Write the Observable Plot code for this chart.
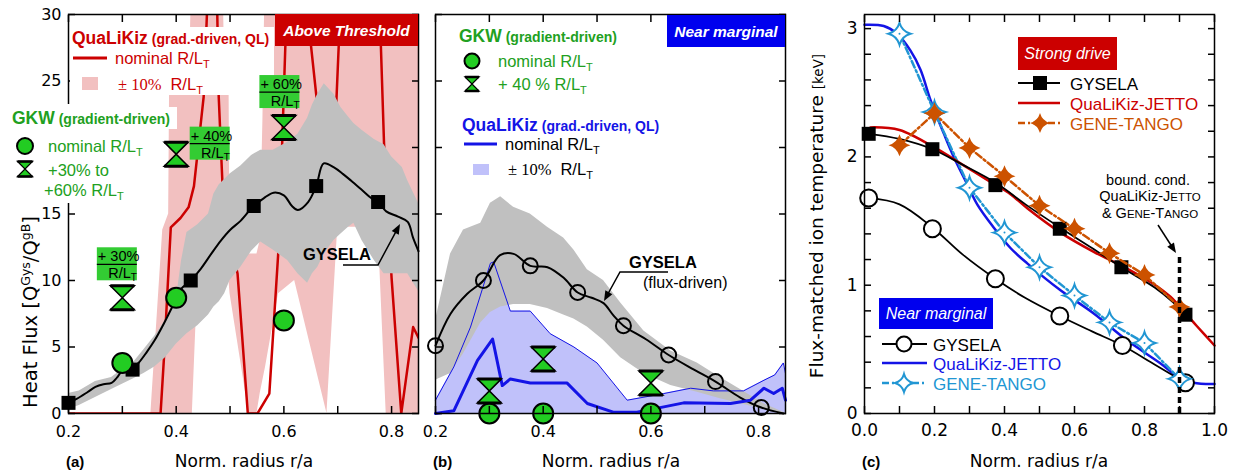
<!DOCTYPE html>
<html><head><meta charset="utf-8">
<script src="https://cdn.jsdelivr.net/npm/d3@7"></script>
<script src="https://cdn.jsdelivr.net/npm/@observablehq/plot@0.6"></script>
<style>
html,body{margin:0;padding:0;background:#fff;}
#fig{position:relative;width:1233px;height:472px;overflow:hidden;background:#fff;}
#fig svg{position:absolute;top:0;max-width:none;}
</style></head>
<body><div id="fig"></div>
<script>
// ================= Panel (a): above threshold =================
const aGysX = [0.2,0.215,0.235,0.25,0.265,0.28,0.29,0.3,0.319,0.33,0.345,0.36,0.375,0.39,0.4,0.41,0.427,0.446,0.465,0.483,0.5,0.52,0.539,0.544,0.563,0.581,0.6,0.615,0.626,0.645,0.66,0.674,0.693,0.71,0.725,0.745,0.762,0.775,0.79,0.812,0.83,0.84,0.85];
const aGysY = [0.8,1.1,1.6,2.0,2.2,2.3,2.7,3.2,3.4,3.8,4.6,5.5,6.6,7.8,8.6,9.4,10.0,10.9,12.0,13.0,13.8,14.5,15.4,15.6,16.2,16.6,16.4,15.6,15.3,15.9,17.1,18.8,18.5,18.0,17.5,16.8,16.2,15.9,15.2,14.8,14.4,13.2,12.2];
const aGysMarkX = [0.2,0.319,0.427,0.544,0.66,0.775];
const aGysMarkY = [0.8,3.3,10.0,15.6,17.1,15.9];
const aGysBandX  = [0.2,0.22,0.25,0.28,0.3,0.32,0.34,0.36,0.38,0.4,0.41,0.42,0.44,0.46,0.47,0.48,0.49,0.5,0.52,0.54,0.557,0.58,0.607,0.626,0.644,0.653,0.663,0.675,0.693,0.706,0.72,0.73,0.745,0.768,0.786,0.8,0.82,0.83,0.85];
const aGysBandLo = [0.3,0.6,1.2,1.8,2.2,2.6,3.0,3.5,4.2,5.2,5.6,6.0,6.6,7.4,8.0,8.4,9.0,10.0,11.0,12.2,12.9,12.3,11.5,10.5,9.8,10.5,11.0,12.0,13.0,13.5,14.0,14.3,13.0,11.5,10.5,10.5,10.5,10.5,9.2];
const aGysBandHi = [1.5,1.7,2.4,2.7,3.3,3.8,4.8,5.8,7.0,8.5,11.5,13.6,14.2,15.0,16.5,17.2,17.6,18.0,18.6,19.4,19.8,19.8,20.4,21.0,22.2,23.2,24.0,24.8,24.0,23.0,22.3,21.8,21.3,20.6,20.2,19.3,18.5,17.5,15.8];
const aQlkX = [0.2,0.371,0.377,0.39,0.408,0.423,0.433,0.451,0.46,0.475,0.479,0.488,0.514,0.533,0.551,0.573,0.591,0.607,0.645,0.65,0.66,0.675,0.69,0.697,0.702,0.71,0.775,0.78,0.786,0.8,0.818,0.84,0.85];
const aQlkY = [0,0,4,14,14.7,15.5,17.1,23.8,33,33,23.8,15.3,10.5,0,0,1.5,13,33,33,27.8,24,19,19,23,27.8,33,33,27.8,20.3,10.2,0,6.5,5.7];
const aQlkBandX  = [0.2,0.353,0.375,0.386,0.388,0.425,0.43,0.437,0.47,0.486,0.49,0.498,0.5,0.535,0.55,0.556,0.561,0.566,0.59,0.62,0.68,0.7,0.775,0.79,0.85];
const aQlkBandLo = [0,0,0,0,0,0,0,7,10,10,10,10,9,0,0,1.5,2.5,3.5,9,10,0,14,14,0,0];
const aQlkBandHi = [0,0,13.8,15,26,26,35,35,35,35,26,26,12,12,12,13,22,35,35,35,35,35,35,35,35];
const aGkwX = [0.3,0.4,0.6];
const aGkwNomY = [3.8,8.7,7.0];
const aGkwUpY = [8.7,19.5,21.5];
const aGkwUpLabels = ["+ 30%","+ 40%","+ 60%"];
const aXTicks = [0.2,0.3,0.4,0.5,0.6,0.7,0.8];
const aXTickLabels = ["0.2","","0.4","","0.6","","0.8"];
const aYTicks = [0,5,10,15,20,25,30];
const aYTickLabels = ["0","5","10","15","","25","30"];

// ================= Panel (b): near marginal =================
const bGysX = [0.2,0.228,0.259,0.289,0.32,0.345,0.376,0.408,0.438,0.464,0.49,0.512,0.53,0.549,0.59,0.633,0.68,0.72,0.766,0.805,0.846];
const bGysY = [5.1,7.5,9.0,10.0,11.9,12.0,11.1,11.0,10.2,9.1,8.7,8.3,7.4,6.6,5.6,4.4,3.3,2.4,1.2,0.45,0];
const bGysMarkX = [0.2,0.289,0.376,0.464,0.549,0.633,0.72,0.805];
const bGysMarkY = [5.1,10.0,11.1,9.1,6.6,4.4,2.4,0.45];
const bGysBandX  = [0.2,0.228,0.252,0.284,0.302,0.321,0.345,0.376,0.408,0.438,0.457,0.482,0.512,0.544,0.587,0.637,0.686,0.729,0.771,0.809,0.846,0.85];
const bGysBandLo = [2.5,3.0,4.5,6.8,7.6,8.0,8.2,8.2,7.9,7.4,7.1,6.5,5.5,4.2,3.0,2.1,1.6,1.1,0.7,0.3,0,0];
const bGysBandHi = [7.0,12.0,13.8,14.3,15.8,16.3,15.5,15.0,14.0,13.2,12.3,10.8,10.0,8.3,6.2,4.7,3.8,2.7,1.7,0.75,0.1,0];
const bQlkBandX  = [0.2,0.234,0.265,0.302,0.308,0.339,0.376,0.413,0.457,0.5,0.556,0.624,0.674,0.716,0.772,0.81,0.83,0.846,0.85];
const bQlkBandHi = [1.0,3.5,6.5,11.3,11.4,7.7,7.7,6.0,5.0,3.8,1.0,1.5,1.9,1.7,1.7,2.5,2.9,3.8,3.0];
const bQlkX = [0.2,0.234,0.278,0.306,0.324,0.339,0.376,0.444,0.482,0.53,0.574,0.624,0.661,0.748,0.785,0.81,0.828,0.844,0.85];
const bQlkY = [0,0.2,4.0,5.6,2.1,2.6,2.3,2.3,0.75,0.1,0.1,0.5,0.8,0.75,1.0,1.9,1.5,1.9,1.0];
const bGkwX = [0.3,0.4,0.6];
const bGkwNomY = [0,0,0];
const bGkwUpY = [1.7,4.1,2.3];
const bXTicks = [0.2,0.3,0.4,0.5,0.6,0.7,0.8];
const bXTickLabels = ["0.2","","0.4","","0.6","","0.8"];
const bYTicks = [0,5,10,15,20,25,30];
const bYTickLabels = ["","","","","","",""];

// ================= Panel (c): flux-matched Ti =================
const cGysSX = [0.012,0.1,0.194,0.28,0.374,0.46,0.558,0.65,0.734,0.83,0.88,0.917];
const cGysSY = [2.18,2.14,2.06,1.94,1.80,1.63,1.45,1.29,1.14,0.98,0.87,0.77];
const cGysSMarkX = [0.012,0.194,0.374,0.558,0.734,0.917];
const cGysSMarkY = [2.18,2.06,1.78,1.44,1.14,0.77];
const cQlkSX = [0.017,0.1,0.208,0.274,0.369,0.417,0.465,0.56,0.655,0.75,0.826,0.874,0.911,0.95,1.0];
const cQlkSY = [2.23,2.21,2.06,1.95,1.79,1.71,1.60,1.41,1.26,1.13,1.01,0.91,0.80,0.68,0.53];
const cGeneSX = [0.1,0.2,0.3,0.4,0.5,0.6,0.7,0.8,0.9];
const cGeneSY = [2.09,2.34,2.07,1.85,1.62,1.44,1.25,1.08,0.83];
const cGysMX = [0.012,0.1,0.194,0.28,0.374,0.46,0.558,0.65,0.737,0.83,0.917];
const cGysMY = [1.68,1.63,1.45,1.24,1.05,0.9,0.76,0.64,0.53,0.38,0.24];
const cGysMMarkX = [0.012,0.194,0.374,0.558,0.737,0.917];
const cGysMMarkY = [1.68,1.44,1.05,0.76,0.53,0.24];
const cQlkMX = [0.0,0.055,0.093,0.131,0.16,0.189,0.227,0.255,0.293,0.322,0.369,0.417,0.465,0.56,0.655,0.75,0.846,0.894,0.94,1.0];
const cQlkMY = [3.03,3.02,2.96,2.83,2.68,2.44,2.18,2.0,1.79,1.63,1.45,1.29,1.17,0.96,0.78,0.57,0.39,0.29,0.24,0.23];
const cGeneMX = [0.1,0.2,0.3,0.4,0.5,0.6,0.7,0.8,0.9];
const cGeneMY = [2.96,2.35,1.76,1.41,1.14,0.92,0.71,0.55,0.27];
const cBoundX = [0.9];
const cBoundTop = [1.22];
const cXTicks = [0,0.1,0.2,0.3,0.4,0.5,0.6,0.7,0.8,0.9,1.0];
const cXTickLabels = ["0.0","","0.2","","0.4","","0.6","","0.8","","1.0"];
const cYTicks = [0,0.2,0.4,0.6,0.8,1,1.2,1.4,1.6,1.8,2,2.2,2.4,2.6,2.8,3];
const cYTickLabels = ["0","","","","","1","","","","","2","","","","","3"];

// ================= colours =================
const RED = "#cc0000", PINK = "#f2c0c0", GRAY = "#c0c0c0", GREEN = "#22cc22", GREENTXT = "#21a021",
      BOXGREEN = "#33cc33", BLUE = "#1414e6", LBLUE = "#c0c1fa", BOXBLUE = "#0000ee",
      ORANGE = "#cc5200", SKY = "#2196d3";

// ================= symbols =================
const rOf = s => Math.sqrt(s / Math.PI);
const hourglass = {draw(c, s) {const r = rOf(s); c.moveTo(-r,-r); c.lineTo(r,-r); c.lineTo(-r,r); c.lineTo(r,r); c.closePath();}};
const hourBars = {draw(c, s) {const r = rOf(s); c.moveTo(-r,-r); c.lineTo(r,-r); c.moveTo(-r,r); c.lineTo(r,r);}};
const squareSym = {draw(c, s) {const r = rOf(s); c.rect(-r,-r,2*r,2*r);}};
const star4 = {draw(c, s) {const r = rOf(s), k = 0.22*r; c.moveTo(0,-r); c.quadraticCurveTo(k,-k,r,0); c.quadraticCurveTo(k,k,0,r); c.quadraticCurveTo(-k,k,-r,0); c.quadraticCurveTo(-k,-k,0,-r); c.closePath();}};

function axesFor(xT, xL, yT, yL, fs, padX) {
  const lab = (T, L) => d => { const i = T.indexOf(d); return i < 0 ? "" : L[i]; };
  return [
    Plot.axisX(xT, {anchor: "bottom", tickSize: -7, tickPadding: padX, tickFormat: lab(xT, xL), fontSize: fs, strokeWidth: 1.5, label: null}),
    Plot.axisX(xT, {anchor: "top", tickSize: -7, tickFormat: () => "", strokeWidth: 1.5, label: null}),
    Plot.axisY(yT, {anchor: "left", tickSize: -7, tickPadding: 14, tickFormat: lab(yT, yL), fontSize: fs, strokeWidth: 1.5, label: null}),
    Plot.axisY(yT, {anchor: "right", tickSize: -7, tickFormat: () => "", strokeWidth: 1.5, label: null}),
    Plot.frame({stroke: "black", strokeWidth: 1.5})
  ];
}
const baseStyle = {fontFamily: "DejaVu Sans", fontSize: "16px", color: "black", background: "transparent", overflow: "visible"};
const fig = document.getElementById("fig");

// ---------- Plot (a) ----------
const plotA = Plot.plot({
  width: 420, height: 472, marginLeft: 68, marginRight: 2, marginTop: 14, marginBottom: 59,
  x: {domain: [0.2, 0.85]}, y: {domain: [0, 30]}, style: baseStyle,
  marks: [
    Plot.areaY(aQlkBandX, {x: aQlkBandX, y1: aQlkBandLo, y2: aQlkBandHi, fill: PINK, clip: true}),
    Plot.line(aQlkX, {x: aQlkX, y: aQlkY, stroke: RED, strokeWidth: 2.5, clip: true}),
    Plot.areaY(aGysBandX, {x: aGysBandX, y1: aGysBandLo, y2: aGysBandHi, fill: GRAY, clip: true}),
    Plot.line(aGysX, {x: aGysX, y: aGysY, stroke: "black", strokeWidth: 2, curve: "catmull-rom"}),
    Plot.dot(aGysMarkX, {x: aGysMarkX, y: aGysMarkY, symbol: squareSym, r: 7, fill: "black"}),
    Plot.dot(aGkwX, {x: aGkwX, y: aGkwNomY, r: 10, fill: GREEN, stroke: "black", strokeWidth: 2}),
    Plot.dot(aGkwX, {x: aGkwX, y: aGkwUpY, symbol: hourglass, r: 12, fill: GREEN, stroke: "black", strokeWidth: 1.5}),
    Plot.dot(aGkwX, {x: aGkwX, y: aGkwUpY, symbol: hourBars, r: 12, fill: "none", stroke: "black", strokeWidth: 3}),
    ...axesFor(aXTicks, aXTickLabels, aYTicks, aYTickLabels, 16, 19)
  ]
});
plotA.style.left = "0px"; fig.appendChild(plotA);

// ---------- Plot (b) ----------
const plotB = Plot.plot({
  width: 370, height: 472, marginLeft: 15, marginRight: 5, marginTop: 14, marginBottom: 59,
  x: {domain: [0.2, 0.85]}, y: {domain: [0, 30]}, style: baseStyle,
  marks: [
    Plot.areaY(bQlkBandX, {x: bQlkBandX, y1: 0, y2: bQlkBandHi, fill: LBLUE}),
    Plot.areaY(bGysBandX, {x: bGysBandX, y1: bGysBandLo, y2: bGysBandHi, fill: GRAY}),
    Plot.line(bQlkBandX, {x: bQlkBandX, y: bQlkBandHi, stroke: BLUE, strokeWidth: 1}),
    Plot.line(bGysX, {x: bGysX, y: bGysY, stroke: "black", strokeWidth: 2, curve: "catmull-rom"}),
    Plot.dot(bGysMarkX, {x: bGysMarkX, y: bGysMarkY, r: 7.5, fill: "none", stroke: "black", strokeWidth: 2}),
    Plot.line(bQlkX, {x: bQlkX, y: bQlkY, stroke: BLUE, strokeWidth: 3}),
    Plot.dot(bGkwX, {x: bGkwX, y: bGkwNomY, r: 10, fill: GREEN, stroke: "black", strokeWidth: 2}),
    Plot.dot(bGkwX, {x: bGkwX, y: bGkwUpY, symbol: hourglass, r: 12, fill: GREEN, stroke: "black", strokeWidth: 1.5}),
    Plot.dot(bGkwX, {x: bGkwX, y: bGkwUpY, symbol: hourBars, r: 12, fill: "none", stroke: "black", strokeWidth: 3}),
    ...axesFor(bXTicks, bXTickLabels, bYTicks, bYTickLabels, 16, 19)
  ]
});
plotB.style.left = "420px"; fig.appendChild(plotB);

// ---------- Plot (c) ----------
const plotC = Plot.plot({
  width: 433, height: 472, marginLeft: 64, marginRight: 19, marginTop: 14, marginBottom: 59,
  x: {domain: [0, 1]}, y: {domain: [0, 3.11]}, style: baseStyle,
  marks: [
    Plot.line(cQlkMX, {x: cQlkMX, y: cQlkMY, stroke: BLUE, strokeWidth: 2.5, curve: "catmull-rom"}),
    Plot.line(cGeneMX, {x: cGeneMX, y: cGeneMY, stroke: SKY, strokeWidth: 2.5, strokeDasharray: "7,3,2,3"}),
    Plot.line(cGysMX, {x: cGysMX, y: cGysMY, stroke: "black", strokeWidth: 1.8, curve: "catmull-rom"}),
    Plot.dot(cGysMMarkX, {x: cGysMMarkX, y: cGysMMarkY, r: 8.5, fill: "white", stroke: "black", strokeWidth: 2}),
    Plot.dot(cGeneMX, {x: cGeneMX, y: cGeneMY, symbol: star4, r: 11, fill: "white", stroke: SKY, strokeWidth: 2}),
    Plot.dot(cGeneMX, {x: cGeneMX, y: cGeneMY, r: 1, fill: SKY}),
    Plot.line(cQlkSX, {x: cQlkSX, y: cQlkSY, stroke: RED, strokeWidth: 2.5, curve: "catmull-rom"}),
    Plot.line(cGysSX, {x: cGysSX, y: cGysSY, stroke: "black", strokeWidth: 1.8, curve: "catmull-rom"}),
    Plot.dot(cGysSMarkX, {x: cGysSMarkX, y: cGysSMarkY, symbol: squareSym, r: 7, fill: "black"}),
    Plot.line(cGeneSX, {x: cGeneSX, y: cGeneSY, stroke: ORANGE, strokeWidth: 2.5, strokeDasharray: "7,3,2,3"}),
    Plot.dot(cGeneSX, {x: cGeneSX, y: cGeneSY, symbol: star4, r: 11, fill: ORANGE}),
    Plot.ruleX(cBoundX, {x: cBoundX, y1: 0, y2: cBoundTop, stroke: "black", strokeWidth: 3.5, strokeDasharray: "6,4"}),
    ...axesFor(cXTicks, cXTickLabels, cYTicks, cYTickLabels, 17, 17)
  ]
});
plotC.style.left = "800px"; fig.appendChild(plotC);

// ================= overlay: legends, labels, annotations =================
const SANS = "Liberation Sans, Arial, sans-serif", WIDE = "DejaVu Sans, sans-serif", SERIF = "Liberation Serif, serif";
const sub = (t, fs = 11) => `<tspan dy="4" font-size="${fs}">${t}</tspan><tspan dy="-4"> </tspan>`;
const hgPath = (cx, cy, s) => `<path d="M${cx-s},${cy-s}H${cx+s}L${cx-s},${cy+s}H${cx+s}Z" fill="${GREEN}" stroke="black" stroke-width="1.3"/><path d="M${cx-s},${cy-s}H${cx+s}M${cx-s},${cy+s}H${cx+s}" stroke="black" stroke-width="2.5"/>`;
const starPath = (cx, cy, r) => { const k = 0.22*r; return `M${cx},${cy-r}Q${cx+k},${cy-k} ${cx+r},${cy}Q${cx+k},${cy+k} ${cx},${cy+r}Q${cx-k},${cy+k} ${cx-r},${cy}Q${cx-k},${cy-k} ${cx},${cy-r}Z`; };
function arrow(pts, len = 10, w = 4) {
  const n = pts.length, [x1, y1] = pts[n-2], [x2, y2] = pts[n-1];
  const dx = x2-x1, dy = y2-y1, L = Math.hypot(dx, dy), ux = dx/L, uy = dy/L;
  const bx = x2-ux*len, by = y2-uy*len;
  const line = `<polyline points="${pts.slice(0,n-1).map(p=>p.join(",")).join(" ")} ${bx+ux*2},${by+uy*2}" fill="none" stroke="black" stroke-width="1.5"/>`;
  return line + `<path d="M${x2},${y2}L${bx-uy*w},${by+ux*w}L${bx+uy*w},${by-ux*w}Z" fill="black"/>`;
}

const sxA = plotA.scale("x"), syA = plotA.scale("y");
const labelOffsets = [[-25,-50],[14,-27],[-24,-52]];
let gkwLabels = "";
aGkwX.forEach((x, i) => {
  const L = sxA.apply(x) + labelOffsets[i][0], T = syA.apply(aGkwUpY[i]) + labelOffsets[i][1];
  gkwLabels += `<rect x="${L}" y="${T}" width="40" height="33" fill="${BOXGREEN}"/>
  <text x="${L+1}" y="${T+14}" font-size="14.5" font-family="${SANS}">${aGkwUpLabels[i]}</text>
  <line x1="${L}" x2="${L+40}" y1="${T+17}" y2="${T+17}" stroke="black" stroke-width="1.3"/>
  <text x="${L+34}" y="${T+31}" font-size="14.5" font-family="${SANS}" text-anchor="end">R/L</text>
  <text x="${L+34}" y="${T+34}" font-size="10" font-family="${SANS}">T</text>`;
});

const ov = `
<svg xmlns="http://www.w3.org/2000/svg" width="1233" height="472" style="left:0;top:0" font-family="${SANS}">
 <!-- panel a legends -->
 <rect x="70" y="27" width="204" height="68" fill="white"/>
 <text x="72" y="44" fill="${RED}" font-weight="bold"><tspan font-size="17.5">QuaLiKiz</tspan><tspan font-size="14"> (grad.-driven, QL)</tspan></text>
 <line x1="73" x2="107" y1="58" y2="58" stroke="${RED}" stroke-width="3"/>
 <text x="115" y="64" font-size="16.5" fill="${RED}">nominal R/L${sub("T")}</text>
 <rect x="82" y="77" width="16" height="13" fill="${PINK}"/>
 <text x="118" y="90" font-size="16.5" fill="${RED}"><tspan font-family="${SERIF}">± 10%</tspan><tspan dx="9">R/L</tspan>${sub("T")}</text>
 <rect x="275" y="14" width="143" height="32" fill="${RED}"/>
 <text x="346.5" y="36" font-size="15.5" fill="white" font-weight="bold" font-style="italic" text-anchor="middle">Above Threshold</text>
 <rect x="0" y="104" width="150" height="99" fill="white"/>
 <rect x="10" y="107" width="167" height="22" fill="white"/>
 <text x="12" y="124" fill="${GREENTXT}" font-weight="bold"><tspan font-size="17.5">GKW</tspan><tspan font-size="14"> (gradient-driven)</tspan></text>
 <circle cx="25" cy="146" r="8" fill="${GREEN}" stroke="black" stroke-width="2"/>
 <text x="48" y="152" font-size="16.5" fill="${GREENTXT}">nominal R/L${sub("T")}</text>
 ${hgPath(25, 169, 7.5)}
 <text x="48" y="176" font-size="16.5" fill="${GREENTXT}">+30% to</text>
 <text x="44" y="196" font-size="16.5" fill="${GREENTXT}">+60% R/L${sub("T")}</text>
 ${gkwLabels}
 <text x="303" y="260" font-size="16.5" font-weight="bold">GYSELA</text>
 ${arrow([[343,265],[378,265],[400,224]])}
 <!-- panel b legends -->
 <rect x="667" y="15" width="118" height="32" fill="${BOXBLUE}"/>
 <text x="726" y="37" font-size="15.5" fill="white" font-weight="bold" font-style="italic" text-anchor="middle">Near marginal</text>
 <text x="459" y="42" fill="${GREENTXT}" font-weight="bold"><tspan font-size="17.5">GKW</tspan><tspan font-size="14"> (gradient-driven)</tspan></text>
 <circle cx="472" cy="61" r="7.5" fill="${GREEN}" stroke="black" stroke-width="2"/>
 <text x="498" y="67" font-size="16.5" fill="${GREENTXT}">nominal R/L${sub("T")}</text>
 ${hgPath(472, 84, 7)}
 <text x="498" y="90" font-size="16.5" fill="${GREENTXT}">+ 40 % R/L${sub("T")}</text>
 <text x="462" y="131" fill="${BLUE}" font-weight="bold"><tspan font-size="17.5">QuaLiKiz</tspan><tspan font-size="14"> (grad.-driven, QL)</tspan></text>
 <line x1="464" x2="497" y1="144" y2="144" stroke="${BLUE}" stroke-width="3"/>
 <text x="505" y="150" font-size="16.5">nominal R/L${sub("T")}</text>
 <rect x="473" y="164" width="16" height="11" fill="${LBLUE}"/>
 <text x="508" y="175" font-size="16.5"><tspan font-family="${SERIF}">± 10%</tspan><tspan dx="9">R/L</tspan>${sub("T")}</text>
 <text x="629" y="268" font-size="16.5" font-weight="bold">GYSELA</text>
 ${arrow([[668,272],[620,272],[604,301]])}
 <text x="643" y="288" font-size="16">(flux-driven)</text>
 <!-- panel c legends -->
 <rect x="1018" y="37" width="99" height="33" fill="${RED}"/>
 <text x="1067.5" y="59" font-size="16" fill="white" font-style="italic" text-anchor="middle">Strong drive</text>
 <line x1="1018" x2="1060" y1="83" y2="83" stroke="black" stroke-width="2"/>
 <rect x="1033" y="76" width="14" height="14" fill="black"/>
 <text x="1070" y="90" font-size="17">GYSELA</text>
 <line x1="1018" x2="1060" y1="103" y2="103" stroke="${RED}" stroke-width="2.5"/>
 <text x="1070" y="110" font-size="17" fill="${RED}">QuaLiKiz-JETTO</text>
 <line x1="1018" x2="1060" y1="123" y2="123" stroke="${ORANGE}" stroke-width="2.5" stroke-dasharray="7,3,2,3"/>
 <path d="${starPath(1040,123,10)}" fill="${ORANGE}"/>
 <text x="1070" y="130" font-size="17" fill="${ORANGE}">GENE-TANGO</text>
 <rect x="879" y="298" width="114" height="31" fill="${BOXBLUE}"/>
 <text x="936" y="319" font-size="16" fill="white" font-style="italic" text-anchor="middle">Near marginal</text>
 <line x1="882" x2="927" y1="344" y2="344" stroke="black" stroke-width="2"/>
 <circle cx="904" cy="344" r="7.5" fill="white" stroke="black" stroke-width="2"/>
 <text x="933" y="351" font-size="17">GYSELA</text>
 <line x1="882" x2="927" y1="363" y2="363" stroke="${BLUE}" stroke-width="2.5"/>
 <text x="933" y="370" font-size="17" fill="${BLUE}">QuaLiKiz-JETTO</text>
 <line x1="882" x2="927" y1="383" y2="383" stroke="${SKY}" stroke-width="2.5" stroke-dasharray="7,3,2,3"/>
 <path d="${starPath(904,383,9)}" fill="white" stroke="${SKY}" stroke-width="2"/>
 <text x="933" y="390" font-size="17" fill="${SKY}">GENE-TANGO</text>
 <text x="1148" y="185" font-size="14.5" text-anchor="middle">bound. cond.</text>
 <text x="1150" y="201" font-size="14.5" text-anchor="middle">QuaLiKiz-J<tspan font-size="11.5">ETTO</tspan></text>
 <text x="1150" y="218" font-size="14.5" text-anchor="middle">&amp; G<tspan font-size="11.5">ENE</tspan>-T<tspan font-size="11.5">ANGO</tspan></text>
 ${arrow([[1158,225],[1176,253]], 10, 4)}
 <!-- axis titles -->
 <g font-family="${WIDE}" font-size="17">
  <text x="244" y="467" text-anchor="middle">Norm. radius r/a</text>
  <text x="611" y="467" text-anchor="middle">Norm. radius r/a</text>
  <text x="1039" y="467" text-anchor="middle">Norm. radius r/a</text>
  <text transform="translate(37,312) rotate(-90)" text-anchor="middle" font-size="19.5">Heat Flux  [Q<tspan dy="-7" font-size="12.5">Gys</tspan><tspan dy="7">/Q</tspan><tspan dy="-7" font-size="12.5">gB</tspan><tspan dy="7">]</tspan></text>
  <text transform="translate(823,216) rotate(-90)" text-anchor="middle" font-size="18.5">Flux-matched ion temperature  <tspan font-size="13.5">[keV]</tspan></text>
 </g>
 <g font-family="${SANS}" font-size="15" font-weight="bold">
  <text x="66" y="467">(a)</text><text x="433" y="467">(b)</text><text x="862" y="467">(c)</text>
 </g>
</svg>`;
fig.insertAdjacentHTML("beforeend", ov);
</script></body></html>
